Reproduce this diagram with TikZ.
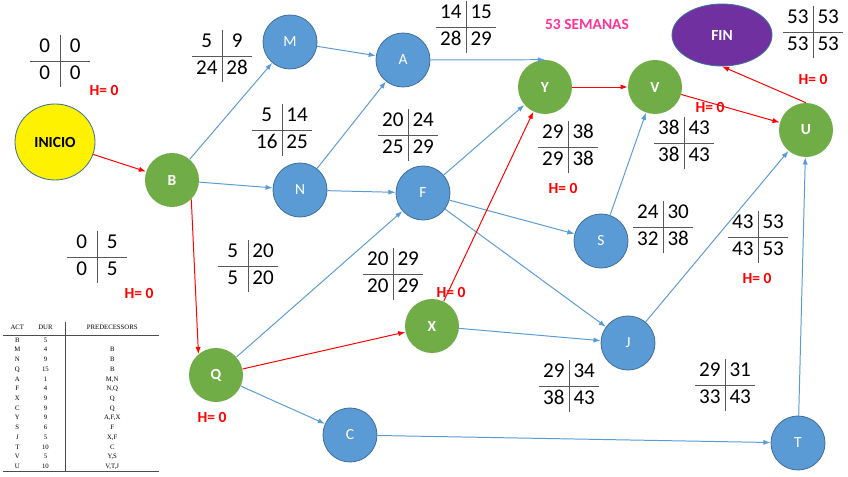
\documentclass[tikz,border=0pt]{standalone}
\usepackage{fontspec}
\setmainfont{Carlito}
\newfontfamily\tabfont{Liberation Serif}
\usepackage{array,colortbl}
\usepackage{tikz}
\usetikzlibrary{arrows.meta,shapes.geometric}
\definecolor{nodeblue}{HTML}{5B9BD5}
\definecolor{edgeblue}{HTML}{41719C}
\definecolor{nodegreen}{HTML}{70AD47}
\definecolor{finpurple}{HTML}{7030A0}
\definecolor{weekpink}{HTML}{FF3399}
\newcolumntype{Z}[1]{>{\centering\arraybackslash}p{#1}}
\newcommand{\cruz}[4]{\setlength{\tabcolsep}{0pt}\setlength{\arrayrulewidth}{0.6pt}%
  \arrayrulecolor{black!65}\begin{tabular}{Z{21pt}|Z{21pt}}#1 & #2\\\hline #3 & #4\end{tabular}}

\begin{document}
\begin{tikzpicture}[x=0.025cm,y=-0.025cm,
          every node/.style={font=\fontsize{11}{13}\selectfont},
          act/.style={circle,draw=edgeblue,line width=0.6pt,fill=nodeblue,
                      minimum size=1.35cm,inner sep=0pt,text=white},
          crit/.style={circle,fill=nodegreen,minimum size=1.35cm,inner sep=0pt,
                       text=white,font=\fontsize{11}{13}\selectfont\bfseries},
          cruzbox/.style={inner sep=0pt,font=\fontsize{15}{18}\selectfont},
          holg/.style={text=red,font=\fontsize{11}{13}\selectfont\bfseries},
          arr/.style={-{Latex[length=1.8mm,width=1.3mm]},line width=0.7pt,draw=nodeblue},
          arrc/.style={arr,draw=red},
      ]
        \useasboundingbox (0,0) rectangle (848,477);
        \node[ellipse,draw=edgeblue,line width=0.6pt,fill=yellow,minimum width=2cm,
              minimum height=1.9cm,font=\fontsize{11}{13}\selectfont\bfseries] (inicio) at (55,142) {INICIO};
        \node[ellipse,draw=edgeblue,line width=0.6pt,fill=finpurple,minimum width=2.5cm,
              minimum height=1.55cm,text=white,font=\fontsize{11}{13}\selectfont\bfseries] (fin) at (722,35) {FIN};
        \node[crit] (B) at (172,180) {B};
        \node[act] (M) at (290,42) {M};
        \node[act] (A) at (403,60) {A};
        \node[act] (N) at (300,190) {N};
        \node[act] (F) at (423,193) {F};
        \node[crit] (Y) at (545,87) {Y};
        \node[crit] (V) at (655,87) {V};
        \node[crit] (U) at (806,130) {U};
        \node[act] (S) at (601,241) {S};
        \node[act] (J) at (628,343) {J};
        \node[crit] (X) at (432,326) {X};
        \node[crit] (Q) at (216,375) {Q};
        \node[act] (C) at (350,435) {C};
        \node[act] (T) at (798,443) {T};

        \draw[arrc] (inicio) -- (B);
        \draw[arr] (B) -- (M);
        \draw[arr] (B) -- (N);
        \draw[arrc] (B.-45) -- (Q.130);
        \draw[arr] (M) -- (A);
        \draw[arr] (N) -- (A);
        \draw[arr] (N) -- (F);
        \draw[arr] (A.east) -- (Y.north);
        \draw[arr] (F) -- (Y);
        \draw[arr] (F) -- (S);
        \draw[arr] (F) -- (J);
        \draw[arr] (Q) -- (F);
        \draw[arrc] (Q) -- (X);
        \draw[arr] (Q) -- (C);
        \draw[arrc] (X) -- (Y);
        \draw[arr] (X) -- (J);
        \draw[arrc] (Y) -- (V);
        \draw[arrc] (V) -- (U);
        \draw[arr] (S) -- (V);
        \draw[arr] (J) -- (U);
        \draw[arr] (C) -- (T);
        \draw[arr] (T) -- (U);
        \draw[arrc] (U.north) -- (fin.south);

        \node[cruzbox] (tInicio) at (60,61) {\cruz{0}{0}{0}{0}};
        \node[cruzbox] (tB) at (97,257) {\cruz{0}{5}{0}{5}};
        \node[cruzbox] (tM) at (222,56) {\cruz{5}{9}{24}{28}};
        \node[cruzbox] (tN) at (282,130) {\cruz{5}{14}{16}{25}};
        \node[cruzbox] (tA) at (466,27) {\cruz{14}{15}{28}{29}};
        \node[cruzbox] (tF) at (408,135) {\cruz{20}{24}{25}{29}};
        \node[cruzbox] (tQ) at (248,266) {\cruz{5}{20}{5}{20}};
        \node[cruzbox] (tX) at (393,274) {\cruz{20}{29}{20}{29}};
        \node[cruzbox] (tY) at (568,147) {\cruz{29}{38}{29}{38}};
        \node[cruzbox] (tV) at (684,143) {\cruz{38}{43}{38}{43}};
        \node[cruzbox] (tS) at (663,227) {\cruz{24}{30}{32}{38}};
        \node[cruzbox] (tU) at (758,237) {\cruz{43}{53}{43}{53}};
        \node[cruzbox] (tJ) at (569,386) {\cruz{29}{34}{38}{43}};
        \node[cruzbox] (tT) at (725,385) {\cruz{29}{31}{33}{43}};
        \node[cruzbox] (tFin) at (813,32) {\cruz{53}{53}{53}{53}};

        \node[holg] (hInicio) at (104,90) {H= 0};
        \node[holg] (hB) at (139,293) {H= 0};
        \node[holg] (hQ) at (212,417) {H= 0};
        \node[holg] (hX) at (451,292) {H= 0};
        \node[holg] (hY) at (563,188) {H= 0};
        \node[holg] (hV) at (710,107) {H= 0};
        \node[holg] (hFin) at (813,79) {H= 0};
        \node[holg] (hU) at (757,278) {H= 0};
        \node[text=weekpink,font=\fontsize{11}{13}\selectfont\bfseries] (semanas) at (587,24) {53 SEMANAS};

        \node[anchor=north west,inner sep=0pt,font=\tabfont\fontsize{4.8}{6.9}\selectfont] (tabla) at (3,322)
          {\setlength{\tabcolsep}{0pt}\setlength{\arrayrulewidth}{0.5pt}\arrayrulecolor{black!70}%
           \begin{tabular}{Z{20pt}Z{20pt}@{\hspace{4pt}}|Z{66pt}}
           ACT & DUR & PREDECESSORS\\[2pt]\hline
           B & 5 & \\
           M & 4 & B\\
           N & 9 & B\\
           Q & 15 & B\\
           A & 1 & M,N\\
           F & 4 & N,Q\\
           X & 9 & Q\\
           C & 9 & Q\\
           Y & 9 & A,F,X\\
           S & 6 & F\\
           J & 5 & X,F\\
           T & 10 & C\\
           V & 5 & Y,S\\
           U & 10 & V,T,J\\\hline
           \end{tabular}};
      \end{tikzpicture}
\end{document}
